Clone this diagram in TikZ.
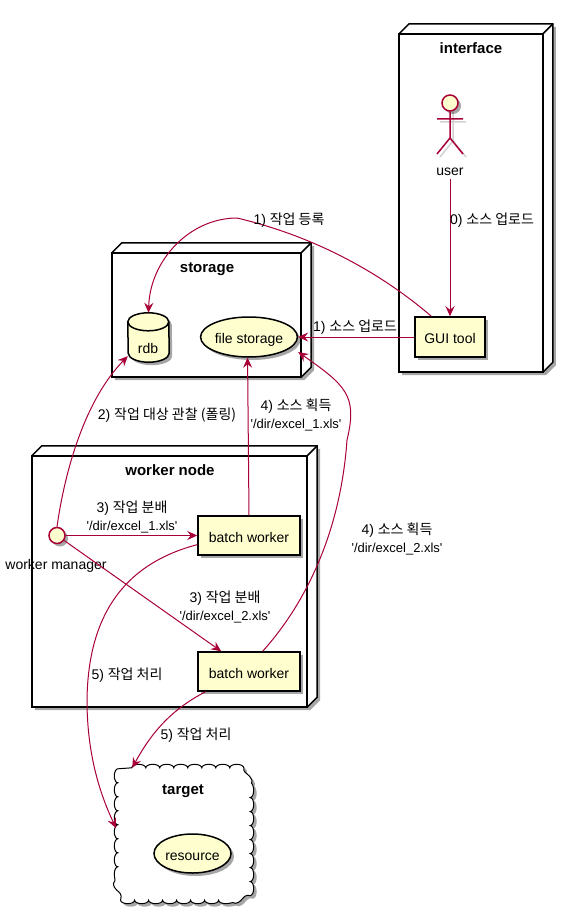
\documentclass[tikz,border=0pt]{standalone}
\usepackage{fontspec}
\setmainfont{Liberation Sans}
\newfontfamily\kr{Noto Sans CJK KR}
\usetikzlibrary{arrows.meta,shapes.geometric,shadows,decorations.pathmorphing}
\definecolor{umlred}{HTML}{A80036}
\definecolor{umlfill}{HTML}{FEFECE}
\newcommand{\filename}[1]{{\fontsize{13}{18}\selectfont\textquotesingle/dir/excel\_#1.xls\textquotesingle}}
\tikzset{
  softshadow/.style={drop shadow={shadow xshift=3pt,shadow yshift=-3pt,opacity=.35,fill=black}},
  boxline/.style={line width=1.5pt,line join=miter},
  title/.style={font=\fontsize{15}{18}\selectfont\bfseries,anchor=base},
  comp/.style={draw=black,boxline,fill=umlfill,softshadow,minimum width=102pt,minimum height=39pt,inner sep=0pt,text height=14pt,text depth=1pt},
  store/.style={ellipse,draw=black,boxline,fill=umlfill,softshadow,inner sep=0pt,text height=14pt,text depth=1pt},
  flow/.style={umlred,line width=1pt,->},
  tag/.style={font=\fontsize{14}{18}\selectfont,align=center,inner sep=0pt,yshift=-1.5pt}
}
\newcommand{\deepframe}[1]{
  \draw [boxline,fill=white,softshadow] (#1.north west) -- ++(10,-10)
    -- ([shift={(10,-10)}]#1.north east) -- ([shift={(10,-10)}]#1.south east)
    -- (#1.south east) -- (#1.south west) -- cycle;
  \draw [boxline] (#1.north west) rectangle (#1.south east);
  \draw [boxline] (#1.north east) -- ++(10,-10);
}
\begin{document}
\begin{tikzpicture}[x=1pt,y=-1pt,>={Stealth[length=10pt,width=9pt,inset=3.5pt]},font=\fontsize{14}{18}\selectfont]
  \useasboundingbox (0,0) rectangle (573,915);
  \path node [inner sep=0pt,minimum width=143.5pt,minimum height=338pt] (interface) at (471,203) {};
  \path node [inner sep=0pt,minimum width=189pt,minimum height=124pt] (storage) at (206.5,315) {};
  \path node [inner sep=0pt,minimum width=275pt,minimum height=251pt] (workernode) at (169.5,581.5) {};
  \path node [inner sep=0pt,minimum width=132pt,minimum height=132pt] (target) at (184,834) {};
  \deepframe{interface} \deepframe{storage} \deepframe{workernode}
  \draw [line width=1pt,fill=white,softshadow,
    decorate,decoration={bumps,segment length=28pt,amplitude=3.5pt}]
    ([xshift=14pt]target.north west) -- ([xshift=-14pt]target.north east)
    -- ([yshift=-14pt]target.north east) -- ([yshift=14pt]target.south east)
    -- ([xshift=-14pt]target.south east) -- ([xshift=14pt]target.south west)
    -- ([yshift=14pt]target.south west) -- ([yshift=-14pt]target.north west) -- cycle;
  \node [title] (interfacetitle) at (471,53.5) {interface};
  \node [title] (storagetitle) at (207,272) {storage};
  \node [title] (workertitle) at (170,475) {worker node};
  \node [title] (targettitle) at (183,794) {target};
  \node [comp,minimum width=70pt,minimum height=40pt] (gui) at (450,337) {GUI tool};
  \node [comp] (batchone) at (249,535.5) {batch worker};
  \node [comp] (batchtwo) at (249,671.5) {batch worker};
  \node [store,minimum width=90pt,minimum height=40pt] (file) at (249,337) {file storage};
  \node [store,minimum width=77pt,minimum height=39pt] (resource) at (192.5,853.5) {resource};
  \path node [inner sep=0pt,minimum width=41pt,minimum height=49pt] (rdb) at (148.5,337.5) {};
  \draw [boxline,fill=umlfill,softshadow] ([yshift=-9pt]rdb.north west)
    arc [start angle=180,end angle=0,x radius=20.5pt,y radius=9pt] -- ([yshift=9pt]rdb.south east)
    arc [start angle=0,end angle=-180,x radius=20.5pt,y radius=9pt] -- cycle;
  \draw [boxline] ([yshift=-9pt]rdb.north west) arc [start angle=180,end angle=360,x radius=20.5pt,y radius=9pt];
  \node [tag] (rdblabel) at (148,347) {rdb};
  % actor
  \node [circle,draw=umlred,boxline,fill=umlfill,softshadow,minimum size=16pt,inner sep=0pt] (user) at (450,103) {};
  \draw [black,opacity=.18,line width=1.5pt] (440,122) -- (466,122) (453,112) -- (453,141)
    -- (440,157) (453,141) -- (466,157);
  \draw [umlred,boxline] (user.south) -- (450,138) -- (437,154) (450,138) -- (463,154) (437,119) -- (463,119);
  \node [tag] (userlabel) at (450,170) {user};
  \node [circle,draw=umlred,boxline,fill=umlfill,softshadow,minimum size=16pt,inner sep=0pt] (manager) at (57,535.5) {};
  \node [tag] (managerlabel) at (56,564) {worker manager};
  \draw [flow] ([yshift=-3pt]userlabel.south) -- (gui.north);
  \draw [flow] (gui.132) .. controls (395,285) and (330,240) .. (237,218)
    .. controls (190,218) and (150,260) .. (rdb.north);
  \draw [flow] (gui.west) -- (file.east);
  \draw [flow] (manager.north) .. controls (65,470) and (85,400) .. (rdb.222);
  \draw [flow] (batchone.north) -- (file.266);
  \draw [flow] (batchtwo.56) .. controls (300,610) and (340,540) .. (347,440)
    .. controls (358,395) and (345,385) .. ([yshift=-15pt]file.east);
  \draw [flow] (manager.east) -- (batchone.west);
  \draw [flow] (manager.-35) -- (batchtwo.144);
  \draw [flow,shorten >=4pt] (batchone.190) .. controls (120,565) and (88,620) .. (87,700)
    .. controls (87,750) and (98,790) .. (target.178);
  \draw [flow] (batchtwo.205) .. controls (170,710) and (150,735) .. (target.128);
  \node [tag] (uploadzero) at (492,219) {0) {\kr 소스 업로드}};
  \node [tag] (registerjob) at (289,219) {1) {\kr 작업 등록}};
  \node [tag] (uploadone) at (355,326) {1) {\kr 소스 업로드}};
  \node [tag] (polljob) at (167,414) {2) {\kr 작업 대상 관찰 (폴링)}};
  \node [tag] (fetchone) at (296,413) {4) {\kr 소스 획득}\\\filename{1}};
  \node [tag] (fetchtwo) at (397,537) {4) {\kr 소스 획득}\\\filename{2}};
  \node [tag] (splitone) at (132,515) {3) {\kr 작업 분배}\\\filename{1}};
  \node [tag] (splittwo) at (225,605) {3) {\kr 작업 분배}\\\filename{2}};
  \node [tag] (workone) at (127,674) {5) {\kr 작업 처리}};
  \node [tag] (worktwo) at (196,734) {5) {\kr 작업 처리}};
\end{tikzpicture}
\end{document}
